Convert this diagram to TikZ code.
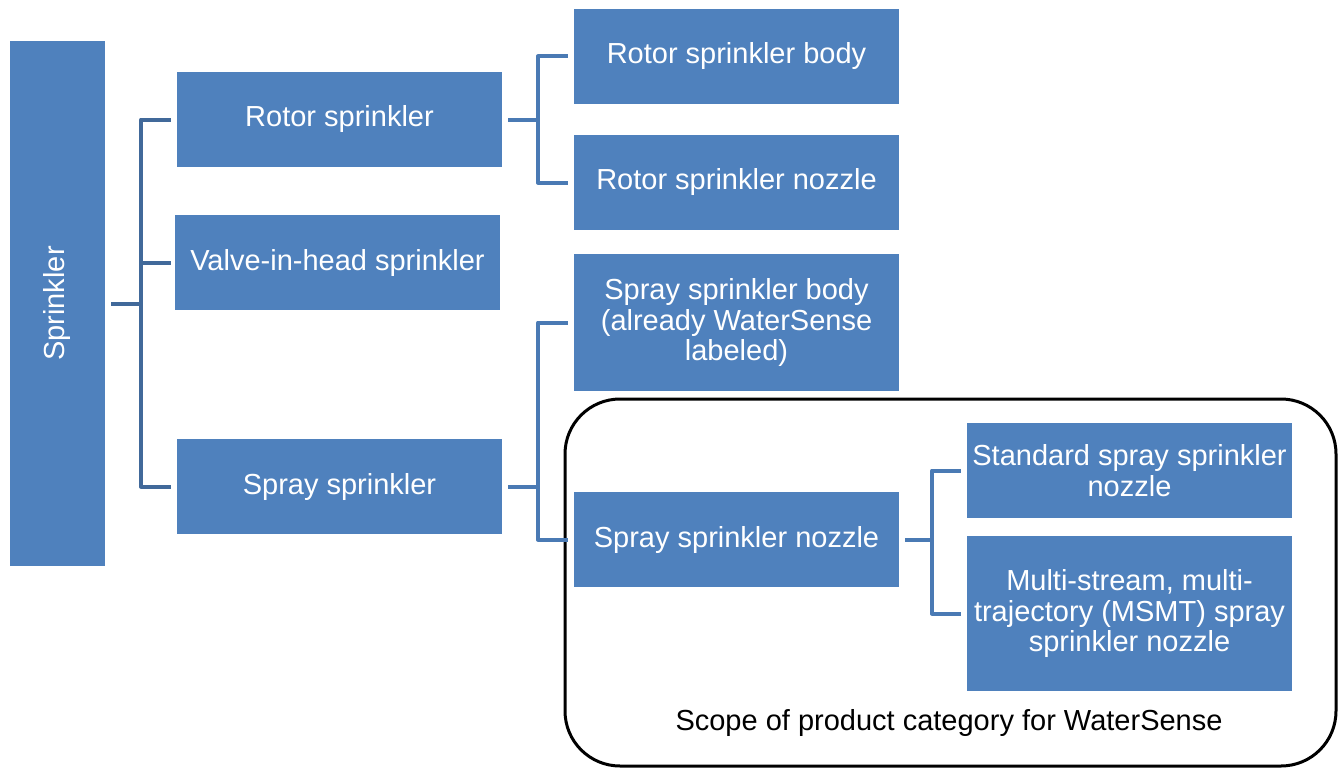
\documentclass[tikz,border=0pt]{standalone}
\usepackage{fontspec}
\setmainfont{Liberation Sans}
\begin{document}
\begin{tikzpicture}[x=1pt,y=-1pt,
  box/.style={fill=boxblue, text=white, inner sep=0pt, minimum width=325pt, minimum height=95pt, align=center,
    font=\fontsize{29}{30.5}\selectfont},
  conn/.style={draw=lineblue, line width=4pt},
  conndark/.style={draw=darkblue, line width=4pt}]
\definecolor{boxblue}{HTML}{4F81BD}
\definecolor{lineblue}{HTML}{4A7AB4}
\definecolor{darkblue}{HTML}{41699A}
\useasboundingbox (0,0) rectangle (1343,768);
% scope frame
\node[draw=black, line width=3pt, rounded corners=55pt, minimum width=771pt, minimum height=367pt, inner sep=0pt] (scope) at (950.5,582.5) {};
\node[font=\fontsize{29}{32}\selectfont, anchor=center] (scopelbl) at (949,723) {Scope of product category for WaterSense};
% boxes
\node[box, minimum width=95pt, minimum height=525pt] (sprk) at (57.5,303.5) {};
\node[rotate=90, text=white, font=\fontsize{29}{32}\selectfont] (sprklbl) at (sprk.center) {Sprinkler};
\node[box] (rotor) at (339.5,119.5) {Rotor sprinkler};
\node[box] (valve) at (337.5,262.5) {Valve-in-head sprinkler};
\node[box] (spray) at (339.5,486.5) {Spray sprinkler};
\node[box] (rbody) at (736.5,56.5) {Rotor sprinkler body};
\node[box] (rnoz) at (736.5,182.5) {Rotor sprinkler nozzle};
\node[box, minimum height=137pt] (sbody) at (736.5,322.5) {Spray sprinkler body\\(already WaterSense\\labeled)};
\node[box] (snoz) at (736.5,539.5) {Spray sprinkler nozzle};
\node[box] (std) at (1129.5,470.5) {Standard spray sprinkler\\nozzle};
\node[box, minimum height=155pt] (msmt) at (1129.5,613.5) {Multi-stream, multi-\\trajectory (MSMT) spray\\sprinkler nozzle};
% junctions
\coordinate (j1) at (141,303.5);
\coordinate (j2) at (538,119.5);
\coordinate (j3) at (538,486.5);
\coordinate (j4) at (932,539.5);
% connectors level 1
\draw[conndark] ([xshift=6pt]sprk.east) -- (j1);
\draw[conndark, line join=round] ([xshift=-6pt]rotor.west) -| (j1) |- ([xshift=-6pt]spray.west);
\draw[conndark] (j1 |- valve.west) -- ([xshift=-4pt]valve.west);
% connectors level 2
\draw[conn] ([xshift=6pt]rotor.east) -- (j2);
\draw[conn, line join=round] ([xshift=-6pt]rbody.west) -| (j2) |- ([xshift=-6pt]rnoz.west);
\draw[conn] ([xshift=6pt]spray.east) -- (j3);
\draw[conn, line join=round] ([xshift=-6pt]sbody.west) -| (j3) |- ([xshift=-6pt]snoz.west);
% connectors level 3
\draw[conn] ([xshift=6pt]snoz.east) -- (j4);
\draw[conn, line join=round] ([xshift=-6pt]std.west) -| (j4) |- ([xshift=-6pt]msmt.west);
\end{tikzpicture}
\end{document}
